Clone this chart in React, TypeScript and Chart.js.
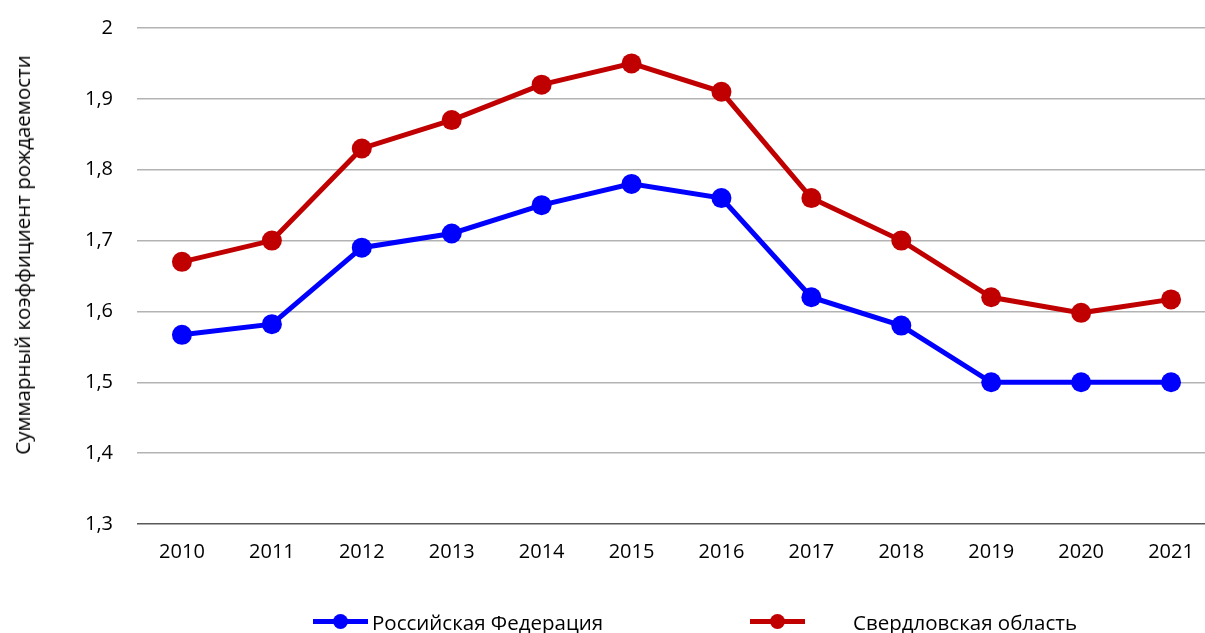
import React, { useEffect, useRef } from "react";
import { Chart, registerables } from "chart.js";

Chart.register(...registerables);

const years = ["2010", "2011", "2012", "2013", "2014", "2015", "2016", "2017", "2018", "2019", "2020", "2021"];
const russia = [1.567, 1.582, 1.69, 1.71, 1.75, 1.78, 1.76, 1.62, 1.58, 1.5, 1.5, 1.5];
const sverdlovsk = [1.67, 1.7, 1.83, 1.87, 1.92, 1.95, 1.91, 1.76, 1.7, 1.62, 1.598, 1.617];
const seriesNames = ["Российская Федерация", "Свердловская область"];
const yTitle = "Суммарный коэффициент рождаемости";
const BLUE = "#0000ff";
const RED = "#c00000";
const FONT = "'Open Sans', sans-serif";

export default function App() {
  const ref = useRef<HTMLCanvasElement | null>(null);
  useEffect(() => {
    document.body.style.margin = "0";
    const chart = new Chart(ref.current!, {
      type: "line",
      data: {
        labels: years,
        datasets: [
          {
            label: seriesNames[0],
            data: russia,
            borderColor: BLUE,
            backgroundColor: BLUE,
            borderWidth: 5,
            pointRadius: 10,
            pointHoverRadius: 10,
            pointBorderWidth: 0,
            tension: 0,
          },
          {
            label: seriesNames[1],
            data: sverdlovsk,
            borderColor: RED,
            backgroundColor: RED,
            borderWidth: 5,
            pointRadius: 10,
            pointHoverRadius: 10,
            pointBorderWidth: 0,
            tension: 0,
          },
        ],
      },
      options: {
        animation: false,
        responsive: false,
        maintainAspectRatio: false,
        layout: { padding: { top: 0, bottom: 69, left: 0, right: 0 } },
        plugins: { legend: { display: false }, tooltip: { enabled: false } },
        scales: {
          x: {
            offset: true,
            grid: { display: false, drawTicks: false },
            border: { display: false },
            ticks: { color: "#000", font: { family: FONT, size: 20 }, padding: 16, maxRotation: 0 },
            afterFit: (s: any) => { s.height = 40; },
          },
          y: {
            min: 1.3,
            max: 2,
            ticks: {
              stepSize: 0.1,
              color: "#000",
              font: { family: FONT, size: 20 },
              padding: 24,
              callback: (v: any) => {
                const n = Math.round(Number(v) * 10) / 10;
                return n === 2 ? "2" : n.toFixed(1).replace(".", ",");
              },
            },
            grid: {
              drawTicks: false,
              color: (c: any) => (c.tick && Math.abs(c.tick.value - 1.3) < 1e-6 ? "#595959" : "#b3b3b3"),
              lineWidth: 1.5,
            },
            border: { display: false },
            title: { display: false },
            afterFit: (s: any) => { s.width = 137; },
          },
        },
      },
    });
    return () => chart.destroy();
  }, []);

  const legendItem = (color: string, left: number, textLeft: number, text: string) => (
    <>
      <div style={{ position: "absolute", left, top: 619, width: 55, height: 5, background: color }} />
      <div style={{ position: "absolute", left: left + 20, top: 614, width: 15, height: 15, borderRadius: "50%", background: color }} />
      <div style={{ position: "absolute", left: textLeft, top: 607, fontFamily: FONT, fontSize: 20.5, color: "#000", whiteSpace: "nowrap", lineHeight: "30px" }}>{text}</div>
    </>
  );

  return (
    <div style={{ position: "fixed", left: 0, top: 0, width: 1205, height: 633, background: "#fff", overflow: "hidden" }}>
      <canvas ref={ref} width={1226} height={641} style={{ position: "absolute", left: 0, top: -8 }} />
      <div
        style={{
          position: "absolute",
          left: 22,
          top: 255,
          transform: "translate(-50%, -50%) rotate(-90deg)",
          fontFamily: FONT,
          fontSize: 20.5,
          color: "#000",
          whiteSpace: "nowrap",
          lineHeight: "28px",
        }}
      >
        {yTitle}
      </div>
      {legendItem(BLUE, 313, 372, seriesNames[0])}
      {legendItem(RED, 750, 853, seriesNames[1])}
    </div>
  );
}
